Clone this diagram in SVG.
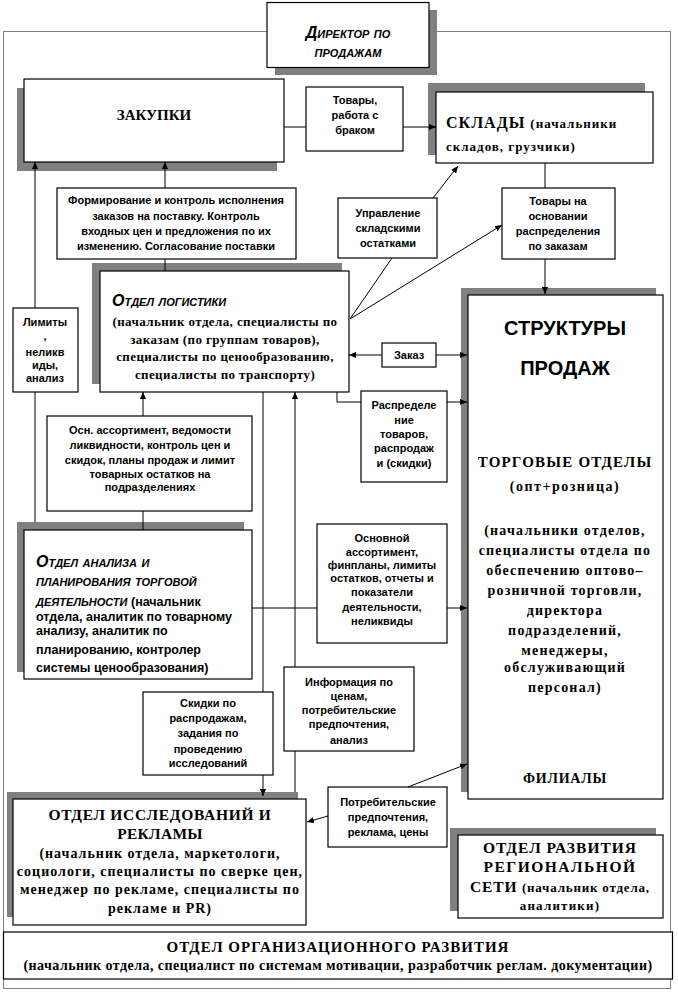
<svg xmlns="http://www.w3.org/2000/svg" width="678" height="993" viewBox="0 0 678 993">
<defs>
<marker id="ar" viewBox="0 0 8 8" refX="8" refY="4" markerWidth="7" markerHeight="7" markerUnits="userSpaceOnUse" orient="auto"><path d="M0,0.5 L8,4 L0,7.5 z" fill="#000"/></marker>
<style>
.box{fill:#fff;stroke:#000;stroke-width:1.2}
.sh{fill:#808080}
.ln{fill:none;stroke:#000;stroke-width:1}
.s{font-family:"Liberation Sans",Arial,sans-serif;font-weight:bold;font-size:11px;text-anchor:middle}
.sb{font-family:"Liberation Sans",Arial,sans-serif;font-weight:bold;font-size:12.5px}
.sf{font-family:"Liberation Serif","Times New Roman",serif;font-weight:bold}
.it{font-family:"Liberation Sans",Arial,sans-serif;font-weight:bold;font-style:italic;font-variant:small-caps}
.c{text-anchor:middle}
</style>
</defs>
<rect x="3.5" y="31.5" width="667" height="957" fill="none" stroke="#000" stroke-width="1" stroke-dasharray="1,1"/>
<g id="director">
<rect class="sh" x="275" y="10" width="162" height="65"/>
<rect class="box" x="267" y="2.5" width="162" height="65"/>
<text class="it c" x="348" y="38" font-size="16">Директор по</text>
<text class="it c" x="348" y="57" font-size="16">продажам</text>
</g>
<g id="zakupki">
<rect class="sh" x="17" y="88" width="260" height="83"/>
<rect class="box" x="24" y="79" width="260" height="83"/>
<text class="sf c" x="154" y="120" font-size="15">ЗАКУПКИ</text>
</g>
<g id="tovary-brak">
<rect class="box" x="306" y="87" width="97" height="64"/>
<text class="s" x="355" y="104">Товары,</text>
<text class="s" x="355" y="119">работа с</text>
<text class="s" x="355" y="134">браком</text>
</g>
<g id="sklady">
<rect class="sh" x="428" y="83" width="217" height="72"/>
<rect class="box" x="436" y="92" width="217" height="71"/>
<text class="sf" x="446" y="128" letter-spacing="1"><tspan font-size="16">СКЛАДЫ </tspan><tspan font-size="13">(начальники</tspan></text>
<text class="sf" x="446" y="151" font-size="13" letter-spacing="1">складов, грузчики)</text>
</g>
<g id="formirovanie">
<rect class="box" x="57" y="188" width="239" height="71"/>
<text class="s" x="176" y="204">Формирование и контроль исполнения</text>
<text class="s" x="176" y="220">заказов на поставку. Контроль</text>
<text class="s" x="176" y="235">входных цен и предложения по их</text>
<text class="s" x="176" y="250">изменению. Согласование поставки</text>
</g>
<g id="upravlenie">
<rect class="box" x="338" y="198" width="99" height="60"/>
<text class="s" x="388" y="217">Управление</text>
<text class="s" x="388" y="232">складскими</text>
<text class="s" x="388" y="247">остатками</text>
</g>
<g id="tovary-osnovanie">
<rect class="box" x="502" y="188" width="113" height="71"/>
<text class="s" x="558" y="205">Товары на</text>
<text class="s" x="558" y="220">основании</text>
<text class="s" x="558" y="235">распределения</text>
<text class="s" x="558" y="250">по заказам</text>
</g>
<g id="logistika">
<rect class="sh" x="92" y="263" width="250" height="121"/>
<rect class="box" x="100" y="271" width="249" height="121"/>
<text class="it" x="112" y="306" font-size="16">Отдел логистики</text>
<text class="sf c" x="225" y="326" font-size="13" letter-spacing="0.4">(начальник отдела, специалисты по</text>
<text class="sf c" x="225" y="344" font-size="13" letter-spacing="0.4">заказам (по группам товаров),</text>
<text class="sf c" x="225" y="361" font-size="13" letter-spacing="0.4">специалисты по ценообразованию,</text>
<text class="sf c" x="225" y="379" font-size="13" letter-spacing="0.4">специалисты по транспорту)</text>
</g>
<g id="limity">
<rect class="box" x="13" y="308" width="65" height="84"/>
<text class="s" x="45" y="326">Лимиты</text>
<text class="s" x="45" y="340">,</text>
<text class="s" x="45" y="356">неликв</text>
<text class="s" x="45" y="369">иды,</text>
<text class="s" x="45" y="382">анализ</text>
</g>
<g id="zakaz">
<rect class="box" x="382" y="343" width="54" height="24"/>
<text class="s" x="409" y="359">Заказ</text>
</g>
<g id="raspredelenie">
<rect class="box" x="361" y="391" width="86" height="91"/>
<text class="s" x="404" y="409">Распределе</text>
<text class="s" x="404" y="424">ние</text>
<text class="s" x="404" y="438">товаров,</text>
<text class="s" x="404" y="452">распродаж</text>
<text class="s" x="404" y="467">и (скидки)</text>
</g>
<g id="struktury">
<rect class="sh" x="461" y="288" width="195" height="504"/>
<rect class="box" x="468" y="295" width="195" height="504"/>
<text class="c" x="565" y="335" font-family="Liberation Sans,Arial,sans-serif" font-weight="bold" font-size="20">СТРУКТУРЫ</text>
<text class="c" x="565" y="375" font-family="Liberation Sans,Arial,sans-serif" font-weight="bold" font-size="20">ПРОДАЖ</text>
<text class="sf c" x="565" y="467" font-size="15" letter-spacing="1.2">ТОРГОВЫЕ ОТДЕЛЫ</text>
<text class="sf c" x="565" y="491" font-size="14" letter-spacing="1.5">(опт+розница)</text>
<g class="sf c" font-size="14" letter-spacing="1.2">
<text x="565" y="535">(начальники отделов,</text>
<text x="565" y="555">специалисты отдела по</text>
<text x="565" y="575">обеспечению оптово–</text>
<text x="565" y="595">розничной торговли,</text>
<text x="565" y="615">директора</text>
<text x="565" y="635">подразделений,</text>
<text x="565" y="655">менеджеры,</text>
<text x="565" y="672">обслуживающий</text>
<text x="565" y="692">персонал)</text>
</g>
<text class="sf c" x="565" y="783" font-size="14" letter-spacing="0.8">ФИЛИАЛЫ</text>
</g>
<g id="osn-assortiment">
<rect class="box" x="47" y="416" width="205" height="95"/>
<text class="s" x="150" y="434">Осн. ассортимент, ведомости</text>
<text class="s" x="150" y="449">ликвидности, контроль цен и</text>
<text class="s" x="150" y="464">скидок, планы продаж и лимит</text>
<text class="s" x="150" y="478">товарных остатков на</text>
<text class="s" x="150" y="491">подразделениях</text>
</g>
<g id="analiz">
<rect class="sh" x="17" y="522" width="227" height="150"/>
<rect class="box" x="24" y="530" width="228" height="149"/>
<text class="it" x="36" y="567" font-size="16">Отдел анализа и</text>
<text class="it" x="36" y="586" font-size="16">планирования торговой</text>
<text class="sb" x="36" y="606"><tspan class="it" font-size="16">деятельности</tspan>  (начальник</text>
<text class="sb" x="36" y="621">отдела, аналитик по товарному</text>
<text class="sb" x="36" y="635">анализу, аналитик по</text>
<text class="sb" x="36" y="654">планированию, контролер</text>
<text class="sb" x="36" y="672">системы ценообразования)</text>
</g>
<g id="osnovnoy">
<rect class="box" x="317" y="524" width="130" height="119"/>
<text class="s" x="382" y="542">Основной</text>
<text class="s" x="382" y="556">ассортимент,</text>
<text class="s" x="382" y="569">финпланы, лимиты</text>
<text class="s" x="382" y="582">остатков, отчеты и</text>
<text class="s" x="382" y="596">показатели</text>
<text class="s" x="382" y="611">деятельности,</text>
<text class="s" x="382" y="625">неликвиды</text>
</g>
<g id="skidki">
<rect class="box" x="143" y="692" width="130" height="83"/>
<text class="s" x="208" y="707">Скидки по</text>
<text class="s" x="208" y="722">распродажам,</text>
<text class="s" x="208" y="737">задания по</text>
<text class="s" x="208" y="753">проведению</text>
<text class="s" x="208" y="767">исследований</text>
</g>
<g id="informaciya">
<rect class="box" x="284" y="667" width="130" height="84"/>
<text class="s" x="349" y="686">Информация по</text>
<text class="s" x="349" y="700">ценам,</text>
<text class="s" x="349" y="714">потребительские</text>
<text class="s" x="349" y="728">предпочтения,</text>
<text class="s" x="349" y="744">анализ</text>
</g>
<g id="potrebitelskie">
<rect class="box" x="328" y="787" width="119" height="60"/>
<text class="s" x="388" y="806">Потребительские</text>
<text class="s" x="388" y="821">предпочтения,</text>
<text class="s" x="388" y="836">реклама, цены</text>
</g>
<g id="issledovaniya">
<rect class="sh" x="7" y="792" width="291" height="125"/>
<rect class="box" x="13" y="799" width="293" height="126"/>
<text class="sf c" x="160" y="820" font-size="15.5" letter-spacing="0.7">ОТДЕЛ  ИССЛЕДОВАНИЙ И</text>
<text class="sf c" x="160" y="839" font-size="15.5" letter-spacing="0.3">РЕКЛАМЫ</text>
<g class="sf c" font-size="14" letter-spacing="1">
<text x="160" y="858">(начальник отдела, маркетологи,</text>
<text x="160" y="876">социологи, специалисты по сверке цен,</text>
<text x="160" y="894">менеджер по рекламе, специалисты по</text>
<text x="160" y="913">рекламе и PR)</text>
</g>
</g>
<g id="regionalnaya">
<rect class="sh" x="450" y="828" width="206" height="83"/>
<rect class="box" x="458" y="835" width="205" height="83"/>
<text class="sf c" x="560" y="853" font-size="15.5" letter-spacing="1">ОТДЕЛ  РАЗВИТИЯ</text>
<text class="sf c" x="560" y="872" font-size="15.5" letter-spacing="1.5">РЕГИОНАЛЬНОЙ</text>
<text class="sf c" x="560" y="892" letter-spacing="0.8"><tspan font-size="15.5">СЕТИ </tspan><tspan font-size="13">(начальник отдела,</tspan></text>
<text class="sf c" x="560" y="910" font-size="13" letter-spacing="1.2">аналитики)</text>
</g>
<g id="organizacionnoe">
<rect class="box" x="3.5" y="932" width="669" height="47"/>
<text class="sf c" x="338" y="952" font-size="15" letter-spacing="1">ОТДЕЛ  ОРГАНИЗАЦИОННОГО РАЗВИТИЯ</text>
<text class="sf c" x="338" y="970" font-size="14" letter-spacing="0.45">(начальник отдела, специалист по системам мотивации, разработчик реглам. документации)</text>
</g>
<g id="connectors">
<line class="ln" x1="284" y1="127" x2="306" y2="127"/>
<line class="ln" x1="403" y1="127" x2="436" y2="127" marker-end="url(#ar)"/>
<line class="ln" x1="165" y1="188" x2="165" y2="162" marker-end="url(#ar)"/>
<line class="ln" x1="165" y1="271" x2="165" y2="259"/>
<line class="ln" x1="35" y1="308" x2="35" y2="162" marker-end="url(#ar)"/>
<line class="ln" x1="35" y1="522" x2="35" y2="392"/>
<line class="ln" x1="143" y1="416" x2="143" y2="392" marker-end="url(#ar)"/>
<line class="ln" x1="143" y1="530" x2="143" y2="511"/>
<line class="ln" x1="350" y1="319" x2="392" y2="258"/>
<line class="ln" x1="433" y1="198" x2="458" y2="166" marker-end="url(#ar)"/>
<line class="ln" x1="350" y1="319" x2="502" y2="225" marker-end="url(#ar)"/>
<line class="ln" x1="545" y1="163" x2="545" y2="188"/>
<line class="ln" x1="545" y1="259" x2="545" y2="294" marker-end="url(#ar)"/>
<line class="ln" x1="382" y1="355" x2="349" y2="355" marker-end="url(#ar)"/>
<line class="ln" x1="436" y1="355" x2="467" y2="355" marker-end="url(#ar)"/>
<polyline class="ln" points="337,392 337,402 361,402"/>
<line class="ln" x1="447" y1="402" x2="467" y2="402" marker-end="url(#ar)"/>
<line class="ln" x1="252" y1="608" x2="317" y2="608"/>
<line class="ln" x1="447" y1="608" x2="467" y2="608" marker-end="url(#ar)"/>
<line class="ln" x1="263" y1="392" x2="263" y2="692"/>
<line class="ln" x1="263" y1="775" x2="263" y2="796" marker-end="url(#ar)"/>
<line class="ln" x1="295" y1="792" x2="295" y2="751"/>
<line class="ln" x1="295" y1="667" x2="295" y2="392" marker-end="url(#ar)"/>
<line class="ln" x1="408" y1="787" x2="467" y2="764" marker-end="url(#ar)"/>
<line class="ln" x1="328" y1="816" x2="307" y2="822" marker-end="url(#ar)"/>
</g>
</svg>
